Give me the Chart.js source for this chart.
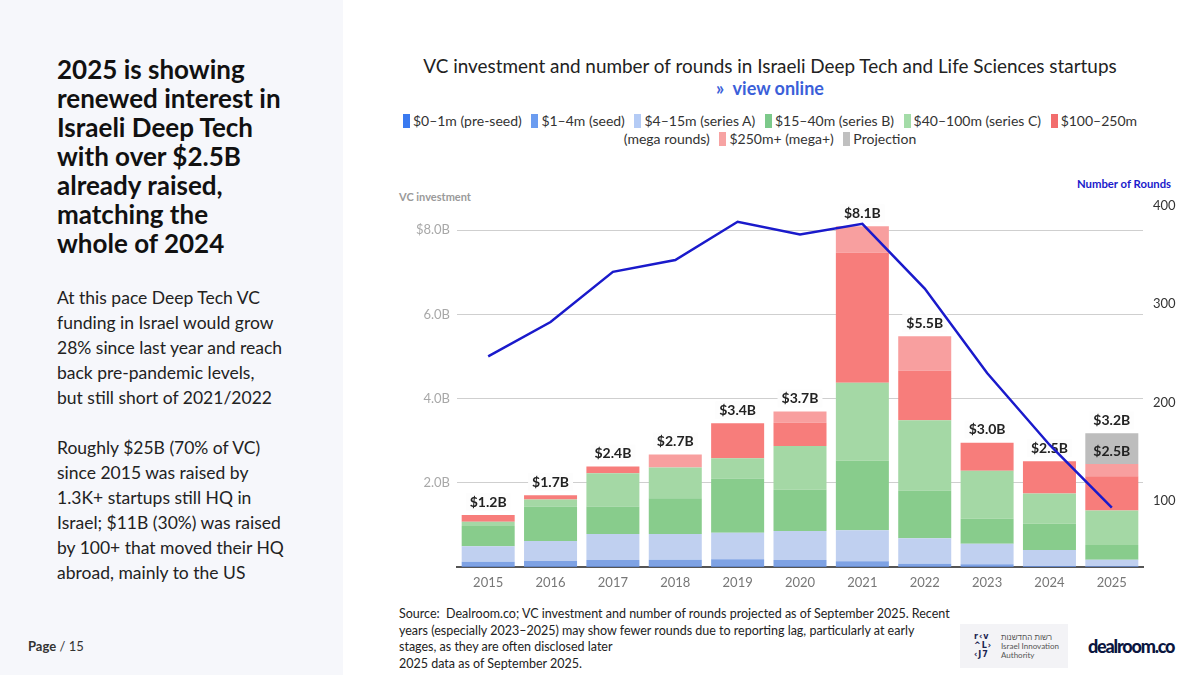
<!DOCTYPE html>
<html>
<head>
<meta charset="utf-8">
<script src="https://cdn.jsdelivr.net/npm/chart.js@4.4.1/dist/chart.umd.min.js"></script>
<style>
  html,body{margin:0;padding:0;}
  body{width:1200px;height:675px;position:relative;background:#ffffff;font-family:Lato,"Noto Sans",sans-serif;overflow:hidden;}
  #leftPanel{position:absolute;left:0;top:0;width:343px;height:675px;background:#f6f7fb;}
  #heading{position:absolute;left:57px;top:55px;width:280px;font-size:26px;line-height:29px;font-weight:700;color:#111;white-space:nowrap;}
  #body{position:absolute;left:57px;top:285px;width:280px;font-size:17.5px;line-height:25px;color:#222;white-space:nowrap;}
  #page{position:absolute;left:28px;top:638px;font-size:13px;color:#333;}
  #title{position:absolute;left:370px;width:800px;top:54px;text-align:center;font-size:18.9px;color:#222;}
  #viewOnline{position:absolute;left:370px;width:800px;top:77px;text-align:center;font-size:18px;font-weight:700;color:#3b5fd9;}
  #legend{position:absolute;left:350px;width:840px;top:112px;text-align:center;font-size:14px;line-height:18px;color:#333;}
  .sw{display:inline-block;width:7px;height:14px;vertical-align:-2px;margin-right:3px;}
  .li{margin:0 3px;white-space:nowrap;}
  #vcTitle{position:absolute;left:399px;top:190px;font-size:11px;font-weight:700;color:#9a9a9a;}
  #nrTitle{position:absolute;left:1077px;top:177px;font-size:11.3px;font-weight:700;color:#1a1acb;}
  #chartWrap{position:absolute;left:390px;top:150px;width:800px;height:450px;}
  #source{position:absolute;left:399px;top:606px;font-family:Lato,sans-serif;font-size:12.5px;line-height:16.5px;color:#222;white-space:nowrap;}
  #iia{position:absolute;left:960px;top:624px;width:108px;height:44px;background:#f3f3f6;}
  #iiaIcon{position:absolute;left:14px;top:8px;font-size:8px;line-height:9px;font-weight:700;color:#1b2450;font-family:"DejaVu Sans",sans-serif;letter-spacing:1px;}
  #iiaText{position:absolute;left:41px;top:9px;font-size:8px;line-height:9px;color:#555;font-family:Lato,sans-serif;}
  #dealroom{position:absolute;left:1088px;top:635px;font-size:18px;font-weight:900;color:#0b1640;letter-spacing:-1.2px;font-family:Lato,sans-serif;}
</style>
</head>
<body>
<div id="leftPanel"></div>
<div id="heading">2025 is showing<br>renewed interest in<br>Israeli Deep Tech<br>with over $2.5B<br>already raised,<br>matching the<br>whole of 2024</div>
<div id="body">At this pace Deep Tech VC<br>funding in Israel would grow<br>28% since last year and reach<br>back pre-pandemic levels,<br>but still short of 2021/2022<br><br>Roughly $25B (70% of VC)<br>since 2015 was raised by<br>1.3K+ startups still HQ in<br>Israel; $11B (30%) was raised<br>by 100+ that moved their HQ<br>abroad, mainly to the US</div>
<div id="page"><b>Page</b> / 15</div>

<div id="title">VC investment and number of rounds in Israeli Deep Tech and Life Sciences startups</div>
<div id="viewOnline">»&nbsp; view online</div>
<div id="legend"></div>
<div id="vcTitle">VC investment</div>
<div id="nrTitle">Number of Rounds</div>
<div id="chartWrap"><canvas id="c" width="800" height="450"></canvas></div>

<div id="source">Source:&nbsp; Dealroom.co; VC investment and number of rounds projected as of September 2025. Recent<br>years (especially 2023–2025) may show fewer rounds due to reporting lag, particularly at early<br>stages, as they are often disclosed later<br>2025 data as of September 2025.</div>
<div id="iia"><div id="iiaIcon">r‹v<br>^L›<br>‹J7</div><div id="iiaText" dir="ltr"><span dir="rtl">רשות החדשנות</span><br>Israel Innovation<br>Authority</div></div>
<div id="dealroom">dealroom.co</div>

<script>
// ---- data ----
const years = ['2015','2016','2017','2018','2019','2020','2021','2022','2023','2024','2025'];
const preSeed    = [0.005,0.005,0.005,0.005,0.005,0.005,0.005,0.005,0.005,0.005,0.005];
const seed       = [0.12,0.14,0.16,0.17,0.18,0.16,0.13,0.07,0.06,0.02,0.01];
const seriesA    = [0.37,0.47,0.62,0.61,0.63,0.69,0.74,0.61,0.49,0.38,0.16];
const seriesB    = [0.48,0.82,0.65,0.85,1.29,0.98,1.65,1.13,0.59,0.62,0.35];
const seriesC    = [0.10,0.17,0.79,0.73,0.48,1.04,1.85,1.67,1.14,0.72,0.82];
const mega       = [0.16,0.10,0.16,0.00,0.83,0.55,3.09,1.18,0.67,0.77,0.81];
const megaPlus   = [0.00,0.00,0.00,0.31,0.00,0.27,0.63,0.82,0.00,0.00,0.29];
const projection = [0,0,0,0,0,0,0,0,0,0,0.73];
const rounds     = [247,282,333,345,384,371,382,316,230,157,93];
const totalLabels     = ['$1.2B','$1.7B','$2.4B','$2.7B','$3.4B','$3.7B','$8.1B','$5.5B','$3.0B','$2.5B','$2.5B'];
const projectedLabels = [null,null,null,null,null,null,null,null,null,null,'$3.2B'];
const leftTicks  = [0,2,4,6,8];
const rightTicks = [100,200,300,400];
const legendNames = ['$0–1m (pre-seed)','$1–4m (seed)','$4–15m (series A)','$15–40m (series B)','$40–100m (series C)','$100–250m (mega rounds)','$250m+ (mega+)','Projection'];

// ---- styles ----
const legendColors = ['#3a7af0','#6b9cf0','#b4cbf5','#7cc98a','#a4dca8','#f26d6d','#f7a3a3','#c0c0c0'];
const barColors    = ['#3a6fd8','#7ea2e4','#c0d0f0','#88cc8c','#a4d8a5','#f77d7b','#f89f9f','#bdbdbd'];

// legend html
(function(){
  const lg = document.getElementById('legend');
  let html = '';
  legendNames.forEach((n,i)=>{
    if(i===5){
      html += '<span class="li"><span class="sw" style="background:'+legendColors[i]+'"></span>$100–250m</span><br>';
      html += '<span class="li">(mega rounds)</span> ';
    } else {
      html += '<span class="li"><span class="sw" style="background:'+legendColors[i]+'"></span>'+n+'</span> ';
    }
  });
  lg.innerHTML = html;
})();

const barSeries = [preSeed,seed,seriesA,seriesB,seriesC,mega,megaPlus,projection];
const datasets = [{
  type:'line', label:'Number of rounds', data:rounds, yAxisID:'y1',
  borderColor:'#1a1acb', borderWidth:2.5, pointRadius:0, tension:0, order:0
}];
barSeries.forEach((s,i)=>{
  datasets.push({type:'bar', label:legendNames[i], data:s, yAxisID:'y',
    backgroundColor:barColors[i], borderWidth:0, order:1, stack:'s',
    barPercentage:0.85, categoryPercentage:1.0});
});

const labelPlugin = {
  id:'labels',
  beforeDatasetDraw(chart,args){
    if(args.index!==0) return;
    const ctx = chart.ctx, ys = chart.scales.y, xs = chart.scales.x;
    ctx.save();
    ctx.font = '700 14px Lato, sans-serif';
    ctx.textAlign='center'; ctx.textBaseline='middle';
    years.forEach((yr,i)=>{
      let actual = 0;
      for(let k=0;k<7;k++) actual += barSeries[k][i];
      const x = xs.getPixelForValue(i);
      const hasProj = projection[i]>0;
      const draw = (txt,val,bg)=>{
        const y = ys.getPixelForValue(val)-13;
        const w = ctx.measureText(txt).width;
        if(bg){ctx.fillStyle='#fdfdfd';ctx.fillRect(x-w/2-4,y-9,w+8,18);}
        ctx.fillStyle='#222';
        ctx.fillText(txt,x,y);
      };
      draw(totalLabels[i],actual,!hasProj);
      if(hasProj && projectedLabels[i]) draw(projectedLabels[i],actual+projection[i],true);
    });
    ctx.restore();
  }
};

new Chart(document.getElementById('c'),{
  data:{labels:years,datasets:datasets},
  options:{
    responsive:false, animation:false, devicePixelRatio:1,
    layout:{padding:{top:50,left:0,right:0,bottom:0}},
    plugins:{legend:{display:false},tooltip:{enabled:false}},
    scales:{
      x:{stacked:true, grid:{display:false, drawTicks:false},
         border:{color:'#555',width:2},
         ticks:{color:'#777',font:{size:13,family:'Lato'},padding:8},
         afterFit(s){s.height=33;}},
      y:{stacked:true, position:'left', min:0, max:8.72,
         afterBuildTicks(s){s.ticks=leftTicks.map(v=>({value:v}));},
         grid:{color:'#cfcfcf',lineWidth:1,drawTicks:false},
         border:{display:false},
         ticks:{color:'#a8a8a8',font:{size:13,family:'Lato'},padding:7,
           callback(v){ if(v===0) return ''; return (v===8?'$':'')+v.toFixed(1)+'B'; }},
         afterFit(s){s.width=67;}},
      y1:{position:'right', min:32.5, max:406.2,
         afterBuildTicks(s){s.ticks=rightTicks.map(v=>({value:v}));},
         grid:{display:false,drawTicks:false}, border:{display:false},
         ticks:{color:'#333',font:{size:13,family:'Lato'},padding:10},
         afterFit(s){s.width=47;}}
    }
  },
  plugins:[labelPlugin]
});
</script>
</body>
</html>
